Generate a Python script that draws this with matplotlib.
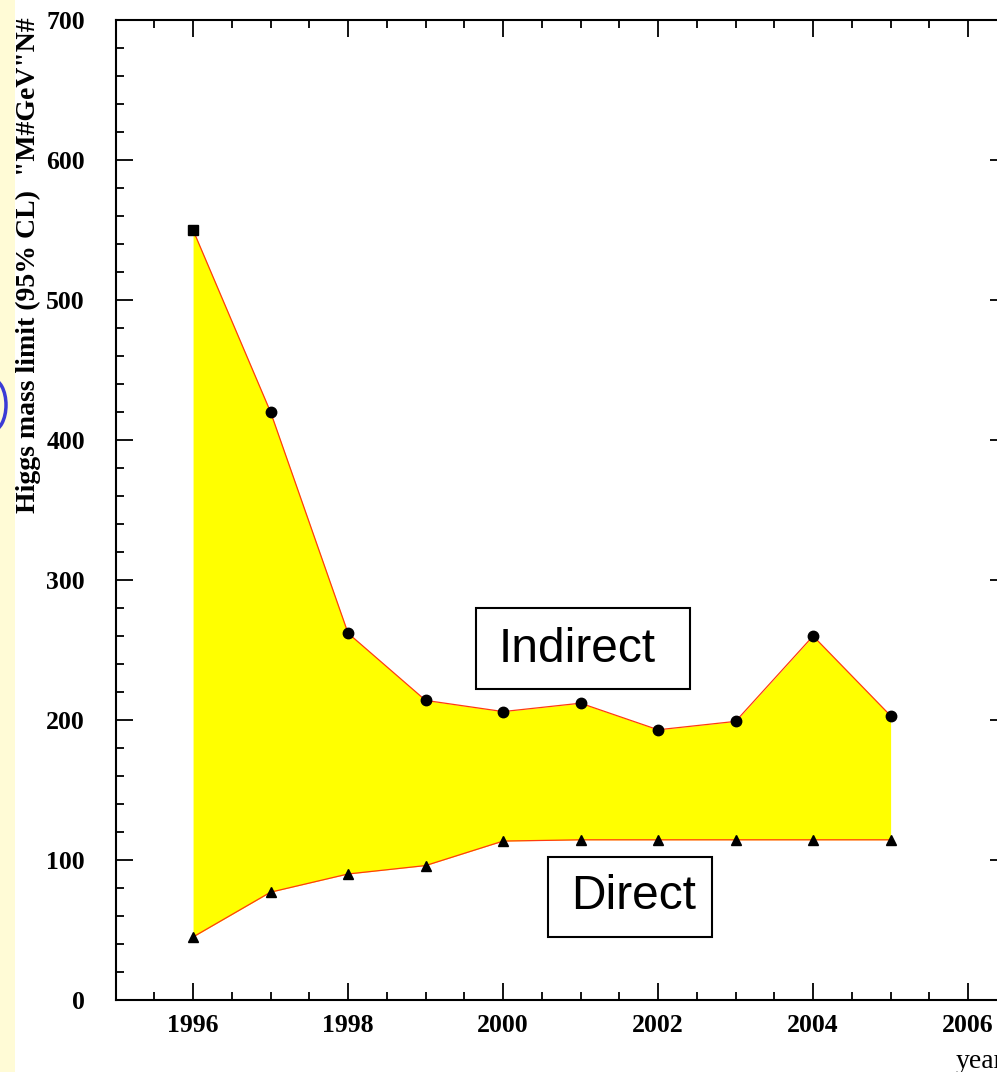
import matplotlib
matplotlib.use("Agg")
import matplotlib.pyplot as plt
from matplotlib.patches import Rectangle, Ellipse
from matplotlib.ticker import MultipleLocator

# Higgs mass limits per year
years = [1996, 1997, 1998, 1999, 2000, 2001, 2002, 2003, 2004, 2005]
indirect = [550, 420, 262, 214, 206, 212, 193, 199, 260, 203]
direct = [45, 77, 90, 96, 113.5, 114.4, 114.4, 114.4, 114.4, 114.4]

serif = "Liberation Serif"

fig = plt.figure(figsize=(9.97, 10.72), dpi=100)
fig.patch.set_facecolor("white")

# slide background pieces at the left edge
fig.patches.append(Rectangle((0, 0), 15 / 997, 1, transform=fig.transFigure,
                             facecolor="#fffbd6", edgecolor="none", zorder=0))
fig.patches.append(Ellipse((-8 / 997, 1 - 405 / 1072), 28 / 997, 52 / 1072,
                           transform=fig.transFigure, facecolor="none",
                           edgecolor="#3b3bd6", lw=2.5, zorder=1))

ax = fig.add_axes([0.1159, 0.0672, 0.894, 0.9141])

ax.fill_between(years, direct, indirect, color="#ffff00", lw=0, zorder=1)
ax.plot(years, indirect, color="#ff3a10", lw=0.9, zorder=2)
ax.plot(years, direct, color="#ff3a10", lw=0.9, zorder=2)
ax.plot(years[:1], indirect[:1], "s", color="black", ms=6.5, zorder=3)
ax.plot(years[1:], indirect[1:], "o", color="black", ms=7.5, zorder=3)
ax.plot(years, direct, "^", color="black", ms=7.5, zorder=3)

ax.set_xlim(1995, 2006.5)
ax.set_ylim(0, 700)
ax.xaxis.set_major_locator(MultipleLocator(2))
ax.xaxis.set_minor_locator(MultipleLocator(0.5))
ax.yaxis.set_major_locator(MultipleLocator(100))
ax.yaxis.set_minor_locator(MultipleLocator(20))
ax.tick_params(which="both", direction="in", top=True, right=True, width=1.3)
ax.tick_params(which="major", length=12)
ax.tick_params(which="minor", length=6)
ax.tick_params(axis="x", pad=10)
ax.tick_params(axis="y", pad=22)
for s in ax.spines.values():
    s.set_linewidth(1.5)
for lab in ax.get_xticklabels() + ax.get_yticklabels():
    lab.set_fontfamily(serif)
    lab.set_fontweight("bold")
    lab.set_fontsize(18.5)

fig.text(28 / 997, 1 - 265 / 1072, 'Higgs mass limit (95% CL)  "M#GeV"N#',
         rotation=90, ha="center", va="center", fontfamily=serif,
         fontweight="bold", fontsize=20)
ax.text(0.942, -0.063, "year", transform=ax.transAxes, ha="left", va="center",
        fontfamily=serif, fontsize=20)

# labelled boxes
ax.add_patch(Rectangle((1999.65, 222), 2.76, 58, facecolor="white",
                       edgecolor="black", lw=1.5, zorder=4))
ax.text(2000.96, 250.7, "Indirect", ha="center", va="center",
        fontfamily="Liberation Sans", fontsize=34.5, zorder=5)
ax.add_patch(Rectangle((2000.58, 45), 2.12, 57, facecolor="white",
                       edgecolor="black", lw=1.5, zorder=4))
ax.text(2001.68, 73.6, "Direct", ha="center", va="center",
        fontfamily="Liberation Sans", fontsize=34.5, zorder=5)

fig.savefig("out.png", dpi=100)
